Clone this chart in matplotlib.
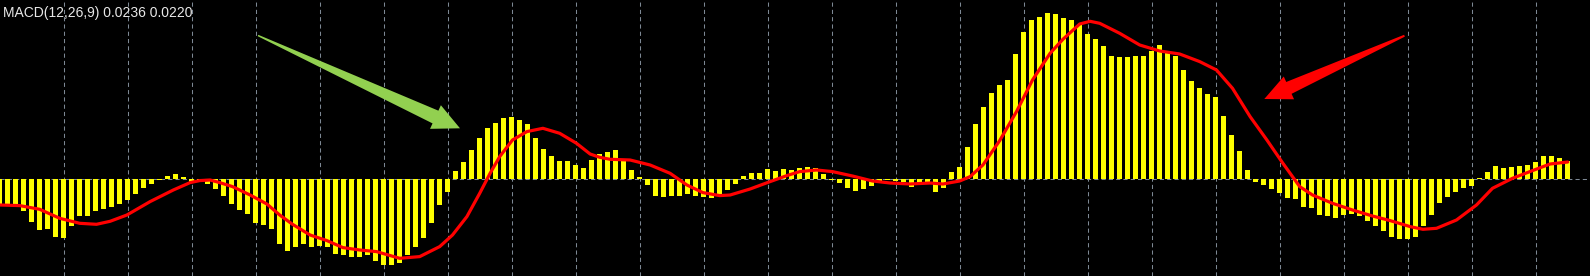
import numpy as np
import matplotlib
matplotlib.use('Agg')
import matplotlib.pyplot as plt
from matplotlib.patches import Polygon

# --- данные (гистограмма MACD и сигнальная линия, в условных единицах) ---
title_text = 'MACD(12,26,9) 0.0236 0.0220'

hist = [
    -24.7, -24.7, -26.0, -31.3, -42.3, -50.7, -49.7, -58.0, -58.7, -46.7,
    -36.7, -36.7, -31.7, -29.7, -27.3, -24.7, -20.7, -14.7, -8.3, -4.3,
    -0.5, 3.3, 5.3, 2.0, -3.3, -2.5, -4.7, -9.3, -16.3, -24.3,
    -30.3, -34.3, -43.3, -45.7, -49.3, -64.3, -71.3, -67.3, -64.3, -67.3,
    -66.3, -67.3, -74.3, -75.3, -77.3, -77.3, -75.3, -81.3, -85.3, -85.3,
    -83.3, -75.7, -67.3, -58.7, -43.3, -25.3, -12.3, 8.3, 17.3, 29.3,
    41.3, 51.3, 56.3, 61.3, 62.3, 59.3, 55.3, 41.3, 30.3, 23.3,
    18.3, 18.3, 14.3, 11.3, 19.3, 25.3, 27.3, 29.3, 18.3, 9.3,
    2.3, -5.7, -16.3, -17.7, -16.3, -16.3, -14.3, -16.3, -17.7, -18.7,
    -15.3, -10.7, -4.7, 3.3, 6.3, 6.3, 10.3, 8.3, 10.3, 9.3,
    11.3, 12.3, 11.3, 5.3, -0.3, -3.7, -8.7, -11.7, -9.7, -6.7,
    -1.7, -0.7, -1.7, -2.7, -7.7, -3.7, -2.7, -12.7, -8.7, 7.3,
    12.3, 32.3, 55.3, 72.3, 86.3, 94.3, 99.3, 125.3, 147.3, 159.3,
    162.3, 166.3, 165.3, 161.3, 159.3, 154.3, 145.3, 140.3, 133.3, 123.3,
    122.3, 122.3, 123.3, 123.3, 128.3, 134.3, 126.3, 123.3, 109.3, 98.3,
    91.3, 85.3, 82.3, 63.3, 44.3, 28.3, 9.3, -2.3, -5.7, -9.7,
    -13.7, -18.7, -19.7, -27.7, -28.7, -35.7, -36.7, -38.7, -35.7, -34.7,
    -36.7, -41.7, -46.7, -51.7, -57.7, -59.7, -59.7, -57.7, -46.7, -35.7,
    -23.7, -17.7, -12.7, -8.7, -6.7, 1.0, 7.3, 13.3, 11.3, 12.3,
    13.3, 14.3, 17.3, 23.3, 23.3, 21.3, 18.3,
]

# сигнальная линия: позиция (в барах) и значение
sig_pos = [0, 2.5, 5, 7.5, 10, 12.1, 13.8, 15.9, 18.8, 21.7,
           23.8, 25, 26.3, 27.5, 29.1, 31.3, 33.4, 35, 36.6, 38.8,
           40.9, 42.9, 45, 47.1, 50, 52.5, 55, 56.6, 58.4, 60,
           61.3, 62.5, 64.1, 65.9, 67.9, 70, 72.1, 73.8, 75, 76.3,
           78.8, 81.3, 83.8, 85.9, 87.9, 90, 91.3, 93.8, 96.3, 98.4,
           100, 102.1, 104.1, 106.6, 109.1, 111.3, 113.8, 116.3, 117.9, 120,
           121.3, 122.9, 125, 127.1, 129.1, 131.3, 132.9, 135, 136.3, 137.5,
           140, 142.5, 145, 147.5, 150, 152.1, 154.1, 156.3, 158.4, 160.4,
           162.5, 164.1, 166.6, 169.1, 171.6, 173.8, 176.3, 177.9, 179.6, 182.1,
           184.6, 186.6, 189.1, 191.6, 193.8, 196]
sig_val = [-25.7, -26.3, -30, -39, -44, -45, -42, -35.7, -22.3, -10.7,
           -3.3, -1.3, -0.7, -3.3, -7.3, -15.7, -24.7, -35.7, -45, -55.7,
           -61.3, -68.3, -70.7, -72.3, -79, -77.3, -67.3, -55.7, -37.3, -14,
           6, 22.7, 39.3, 47.7, 51, 46, 36, 25.3, 22, 20,
           19.3, 14.3, 6, -5.7, -13.3, -16.3, -15.7, -9.7, -2.3, 3.7,
           7.7, 9.3, 7.7, 3.3, -1.7, -3.7, -4.7, -3.7, -4.7, -1.7,
           2.7, 14.3, 38.7, 67.7, 99.3, 126, 140, 155.3, 158, 156,
           146, 134.3, 128.3, 125.3, 117.7, 109.3, 91, 62.7, 39.3, 16,
           -7.3, -15.7, -24, -30.7, -36.7, -41.3, -47.3, -50, -49, -40.7,
           -25.7, -9, 1, 8.7, 15.3, 17.3]

# --- полотно ---
W, H = 1590, 276
fig = plt.figure(figsize=(W / 100, H / 100), dpi=100, facecolor='black')

ax = fig.add_axes([0, 0, 1, 1])
ax.set_facecolor('black')
x = np.arange(len(hist))
grid_col = '#7d8894'

# вертикальная сетка через каждые 8 баров
for k in range(8, len(hist), 8):
    ax.axvline(k, color=grid_col, lw=0.75, ls=(0, (4, 3)), zorder=1)
ax.axhline(0, color=grid_col, lw=0.75, ls=(0, (4, 3)), zorder=1)

ax.bar(x, hist, width=0.62, color='#ffff00', zorder=2)
ax.plot(sig_pos, sig_val, color='#ff0000', lw=2.3, zorder=3,
        solid_joinstyle='round', solid_capstyle='round')

ax.set_xlim(0.3 / 8, (W + 0.3) / 8)
ax.set_ylim(179.3 - H, 179.3)
ax.axis('off')

# --- слой для стрелок и подписи (пиксельные координаты) ---
ov = fig.add_axes([0, 0, 1, 1])
ov.set_xlim(0, W)
ov.set_ylim(H, 0)
ov.set_facecolor('none')
ov.axis('off')


def arrow_poly(tail, tip, w0, w1, hw, hl):
    tail, tip = np.array(tail, float), np.array(tip, float)
    d = tip - tail
    u = d / np.hypot(*d)
    n = np.array([-u[1], u[0]])
    base = tip - u * hl
    return [tail + n * w0 / 2, base + n * w1 / 2, base + n * hw / 2, tip,
            base - n * hw / 2, base - n * w1 / 2, tail - n * w0 / 2]


ov.add_patch(Polygon(arrow_poly((258, 35.5), (460, 128.3), 1.5, 14, 26, 27),
                     closed=True, facecolor='#92d050', edgecolor='none', zorder=5))
ov.add_patch(Polygon(arrow_poly((1404.5, 35.7), (1264.3, 99), 2, 13, 25, 27),
                     closed=True, facecolor='#ff0000', edgecolor='none', zorder=5))

ov.text(3, 17, title_text, color='#e8e8e8', fontsize=10,
        family='Liberation Sans', va='baseline', ha='left', zorder=6)

fig.savefig('out.png', dpi=100, facecolor='black')
